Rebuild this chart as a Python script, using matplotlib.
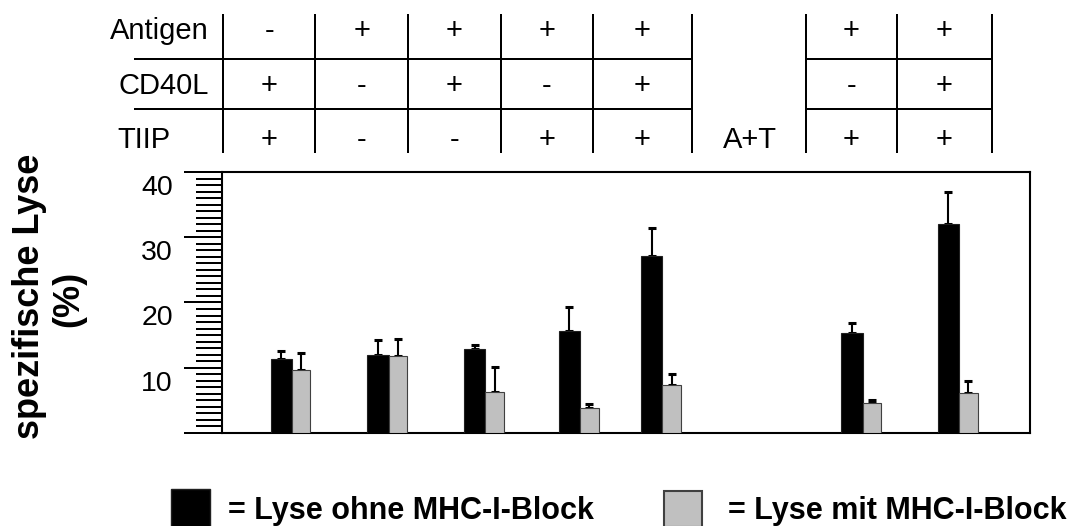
import matplotlib
matplotlib.use("Agg")
import matplotlib.pyplot as plt
from matplotlib.patches import Rectangle
from matplotlib.lines import Line2D
from matplotlib.ticker import FixedLocator, MultipleLocator
from matplotlib.transforms import ScaledTranslation

plt.rcParams['font.family'] = ['Liberation Sans', 'DejaVu Sans']

# ---------------- data ----------------
row_labels = ["Antigen", "CD40L", "TIIP"]
antigen = ["-", "+", "+", "+", "+", "+", "+"]
cd40l = ["+", "-", "+", "-", "+", "-", "+"]
tiip = ["+", "-", "-", "+", "+", "+", "+"]
gap_label = "A+T"

lysis_without = [11.3, 11.9, 12.9, 15.6, 27.1, 15.4, 32.1]
err_without = [1.2, 2.3, 0.6, 3.7, 4.3, 1.4, 4.9]
lysis_with = [9.7, 11.75, 6.3, 3.8, 7.35, 4.6, 6.1]
err_with = [2.5, 2.65, 3.8, 0.7, 1.65, 0.5, 1.85]

ytick_values = [0, 10, 20, 30, 40]
ytick_labels = ["", "10", "20", "30", "40"]
legend_labels = ["= Lyse ohne MHC-I-Block", "= Lyse mit MHC-I-Block"]
ylabel_lines = ["spezifische Lyse", "(%)"]

# ---------------- layout ----------------
W, H = 1077, 526
def fx(x):
    return x / W
def fy(y):
    return 1 - y / H

group_slots = [0, 1, 2, 2.98, 3.83, 5.9, 6.9]
black_w = 0.222
gray_w = 0.19

fig = plt.figure(figsize=(W / 100, H / 100), dpi=100)
ax = fig.add_axes([fx(222), fy(433), (1030 - 222) / W, (433 - 172) / H])

ax.bar(group_slots, lysis_without, width=-black_w, align='edge',
       color='black', edgecolor='#202020', linewidth=0.8, zorder=3)
ax.bar(group_slots, lysis_with, width=gray_w, align='edge',
       color='#c0c0c0', edgecolor='#404040', linewidth=0.8, zorder=3)

xb = [s - black_w / 2 for s in group_slots]
xg = [s + gray_w / 2 for s in group_slots]
ax.errorbar(xb, lysis_without, yerr=[[0] * len(err_without), err_without],
            fmt='none', ecolor='black', elinewidth=1.5, capsize=3, capthick=2.2, zorder=2)
ax.errorbar(xg, lysis_with, yerr=[[0] * len(err_with), err_with],
            fmt='none', ecolor='black', elinewidth=1.5, capsize=3, capthick=2.2, zorder=2)

ax.set_xlim(-0.724, 7.632)
ax.set_ylim(0, 40)
ax.set_xticks([])
ax.yaxis.set_major_locator(FixedLocator(ytick_values))
ax.set_yticklabels(ytick_labels)
ax.yaxis.set_minor_locator(MultipleLocator(1))
ax.tick_params(axis='y', which='major', length=27.4, width=1.44, direction='out',
               pad=8, labelsize=20.5, color='black')
ax.tick_params(axis='y', which='minor', length=18.7, width=1.44, direction='out', color='black')
for sp in ax.spines.values():
    sp.set_linewidth(1.5)
    sp.set_color('black')

offset = ScaledTranslation(0, -0.13, fig.dpi_scale_trans)
for t in ax.yaxis.get_major_ticks():
    t.label1.set_transform(t.label1.get_transform() + offset)

# y label
fig.text(fx(30), fy(296), ylabel_lines[0], rotation=90, ha='center', va='center',
         fontsize=26, fontweight='bold')
fig.text(fx(69), fy(299), ylabel_lines[1], rotation=90, ha='center', va='center',
         fontsize=26, fontweight='bold')

# ---------------- condition table ----------------
left_edges = [223.3, 315, 408.3, 500.7, 592.7, 692]
right_edges = [806, 896.7, 991.7]
row_y = [31, 86, 140]
hline_y = [59, 109]
lw = 1.44

for x in left_edges + right_edges:
    fig.add_artist(Line2D([fx(x), fx(x)], [fy(15), fy(152)], color='black', lw=lw))
for y in hline_y:
    fig.add_artist(Line2D([fx(135), fx(left_edges[-1])], [fy(y), fy(y)], color='black', lw=lw))
    fig.add_artist(Line2D([fx(right_edges[0]), fx(right_edges[-1])], [fy(y), fy(y)], color='black', lw=lw))

centers = [(left_edges[i] + left_edges[i + 1]) / 2 for i in range(len(left_edges) - 1)]
centers += [(right_edges[i] + right_edges[i + 1]) / 2 for i in range(len(right_edges) - 1)]
table_fs = 21
for r, vals in enumerate([antigen, cd40l, tiip]):
    for c, v in enumerate(vals):
        fig.text(fx(centers[c]), fy(row_y[r]), v, ha='center', va='center', fontsize=table_fs)

fig.text(fx(209), fy(row_y[0]), row_labels[0], ha='right', va='center', fontsize=table_fs)
fig.text(fx(209), fy(row_y[1]), row_labels[1], ha='right', va='center', fontsize=table_fs)
fig.text(fx(144), fy(row_y[2]), row_labels[2], ha='center', va='center', fontsize=table_fs)
fig.text(fx(750), fy(row_y[2]), gap_label, ha='center', va='center', fontsize=table_fs)

# ---------------- legend ----------------
fig.add_artist(Rectangle((fx(171), fy(527)), (210 - 171) / W, (527 - 489) / H,
                         transform=fig.transFigure, facecolor='black', edgecolor='#202020', lw=1))
fig.add_artist(Rectangle((fx(664), fy(527)), (702 - 664) / W, (527 - 491) / H,
                         transform=fig.transFigure, facecolor='#c0c0c0', edgecolor='#404040', lw=1.5))
fig.text(fx(228), fy(519), legend_labels[0], ha='left', va='baseline', fontsize=22, fontweight='bold')
fig.text(fx(728), fy(519), legend_labels[1], ha='left', va='baseline', fontsize=22, fontweight='bold')

fig.savefig("out.png", dpi=100)
